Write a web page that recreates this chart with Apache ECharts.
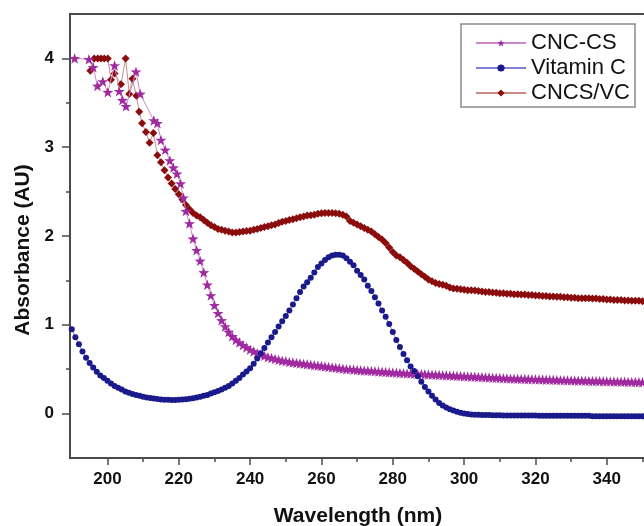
<!DOCTYPE html>
<html>
<head>
<meta charset="utf-8">
<script src="https://cdn.jsdelivr.net/npm/echarts@6/dist/echarts.min.js"></script>
<style>
html,body{margin:0;padding:0;background:#fff;}
#chart{width:644px;height:526px;}
</style>
</head>
<body>
<div id="chart"></div>
<script>
// ---- data ----
const seriesNames = ['CNC-CS', 'Vitamin C', 'CNCS/VC'];
const xTickLabels = [200, 220, 240, 260, 280, 300, 320, 340];
const xMinorTicks = [210, 230, 250, 270, 290, 310, 330, 350];
const yTickLabels = [0, 1, 2, 3, 4];
const yMinorTicks = [0.5, 1.5, 2.5, 3.5];

const wlVitaminC = [190,191,192,193,194,195,196,197,198,199,200,201,202,203,204,205,206,207,208,209,210,211,212,213,214,215,216,217,218,219,220,221,222,223,224,225,226,227,228,229,230,231,232,233,234,235,236,237,238,239,240,241,242,243,244,245,246,247,248,249,250,251,252,253,254,255,256,257,258,259,260,261,262,263,264,265,266,267,268,269,270,271,272,273,274,275,276,277,278,279,280,281,282,283,284,285,286,287,288,289,290,291,292,293,294,295,296,297,298,299,300,301,302,303,304,305,306,307,308,309,310,311,312,313,314,315,316,317,318,319,320,321,322,323,324,325,326,327,328,329,330,331,332,333,334,335,336,337,338,339,340,341,342,343,344,345,346,347,348,349,350];
const absVitaminC = [0.95,0.86,0.78,0.70,0.63,0.57,0.52,0.47,0.43,0.40,0.37,0.34,0.31,0.29,0.27,0.25,0.235,0.22,0.21,0.20,0.19,0.18,0.175,0.17,0.165,0.16,0.157,0.155,0.153,0.153,0.155,0.158,0.162,0.167,0.173,0.18,0.19,0.20,0.21,0.225,0.24,0.255,0.27,0.29,0.31,0.34,0.37,0.40,0.44,0.475,0.51,0.56,0.62,0.68,0.74,0.80,0.86,0.92,0.98,1.04,1.10,1.16,1.23,1.30,1.37,1.43,1.48,1.53,1.59,1.65,1.69,1.73,1.76,1.78,1.79,1.79,1.78,1.75,1.71,1.67,1.61,1.56,1.51,1.44,1.38,1.31,1.24,1.16,1.09,1.01,0.92,0.83,0.75,0.67,0.60,0.53,0.48,0.42,0.36,0.30,0.25,0.20,0.16,0.12,0.09,0.07,0.05,0.035,0.02,0.01,0.00,-0.005,-0.01,-0.012,-0.014,-0.015,-0.016,-0.017,-0.018,-0.018,-0.019,-0.02,-0.02,-0.02,-0.02,-0.02,-0.02,-0.02,-0.02,-0.02,-0.02,-0.025,-0.025,-0.025,-0.025,-0.025,-0.025,-0.025,-0.025,-0.025,-0.025,-0.025,-0.025,-0.025,-0.025,-0.025,-0.03,-0.03,-0.03,-0.03,-0.03,-0.03,-0.03,-0.03,-0.03,-0.03,-0.03,-0.03,-0.03,-0.03,-0.03];

const wlCncCs = [190.8,194.8,196.0,197.2,198.7,200.1,202.0,203.3,204.2,205.2,208.0,209.2,213.0,214.0,215.0,216.2,217.5,218.5,219.5,220.5,221.3,222,223,224,225,226,227,228,229,230,231,232,233,234,235,236,237,238,239,240,241,242,243,244,245,246,247,248,249,250,251,252,253,254,255,256,257,258,259,260,261,262,263,264,265,266,267,268,269,270,271,272,273,274,275,276,277,278,279,280,281,282,283,284,285,286,287,288,289,290,291,292,293,294,295,296,297,298,299,300,301,302,303,304,305,306,307,308,309,310,311,312,313,314,315,316,317,318,319,320,321,322,323,324,325,326,327,328,329,330,331,332,333,334,335,336,337,338,339,340,341,342,343,344,345,346,347,348,349,350];
const absCncCs = [4.00,3.99,3.90,3.69,3.74,3.62,3.92,3.63,3.53,3.46,3.85,3.60,3.30,3.27,3.08,2.97,2.85,2.77,2.70,2.59,2.43,2.28,2.14,1.97,1.84,1.72,1.59,1.45,1.33,1.22,1.13,1.05,0.98,0.92,0.87,0.83,0.80,0.77,0.745,0.72,0.70,0.68,0.665,0.65,0.635,0.625,0.615,0.605,0.595,0.59,0.58,0.575,0.57,0.565,0.56,0.555,0.55,0.545,0.54,0.535,0.53,0.525,0.52,0.515,0.51,0.505,0.50,0.50,0.495,0.49,0.488,0.485,0.482,0.48,0.477,0.474,0.471,0.468,0.465,0.462,0.46,0.457,0.455,0.452,0.45,0.448,0.446,0.444,0.442,0.44,0.438,0.436,0.434,0.432,0.43,0.428,0.426,0.424,0.422,0.42,0.418,0.416,0.414,0.412,0.41,0.408,0.406,0.404,0.402,0.40,0.398,0.396,0.394,0.393,0.392,0.39,0.389,0.388,0.387,0.386,0.385,0.383,0.382,0.381,0.38,0.378,0.377,0.376,0.375,0.373,0.372,0.371,0.37,0.369,0.368,0.367,0.366,0.365,0.364,0.363,0.362,0.361,0.36,0.359,0.358,0.357,0.356,0.355,0.354,0.353];

const wlCncsVc = [195.2,196.3,197.3,198.2,199.1,200.1,201.0,202.0,203.8,205.1,206.1,207.0,208.1,208.9,209.7,210.8,211.8,212.9,214,215,216,217,218,219,220,221,222,223,224,225,226,227,228,229,230,231,232,233,234,235,236,237,238,239,240,241,242,243,244,245,246,247,248,249,250,251,252,253,254,255,256,257,258,259,260,261,262,263,264,265,266,267,268,269,270,271,272,273,274,275,276,277,278,279,280,281,282,283,284,285,286,287,288,289,290,291,292,293,294,295,296,297,298,299,300,301,302,303,304,305,306,307,308,309,310,311,312,313,314,315,316,317,318,319,320,321,322,323,324,325,326,327,328,329,330,331,332,333,334,335,336,337,338,339,340,341,342,343,344,345,346,347,348,349,350];
const absCncsVc = [3.86,4.00,4.00,4.00,4.00,4.00,3.76,3.83,3.71,4.00,3.60,3.77,3.58,3.40,3.27,3.17,3.05,3.16,2.91,2.83,2.74,2.66,2.59,2.53,2.47,2.41,2.35,2.30,2.26,2.23,2.21,2.18,2.15,2.12,2.10,2.08,2.07,2.06,2.05,2.04,2.04,2.045,2.05,2.055,2.06,2.07,2.08,2.09,2.10,2.11,2.12,2.13,2.145,2.16,2.17,2.18,2.19,2.20,2.21,2.22,2.23,2.235,2.24,2.25,2.255,2.26,2.26,2.26,2.255,2.25,2.24,2.22,2.17,2.15,2.13,2.11,2.09,2.07,2.05,2.02,1.99,1.96,1.92,1.87,1.82,1.78,1.76,1.73,1.70,1.66,1.63,1.60,1.57,1.54,1.51,1.49,1.47,1.46,1.45,1.44,1.42,1.41,1.405,1.40,1.395,1.39,1.39,1.385,1.38,1.375,1.37,1.37,1.365,1.36,1.355,1.355,1.35,1.35,1.345,1.345,1.34,1.34,1.335,1.335,1.33,1.33,1.325,1.325,1.32,1.32,1.315,1.315,1.31,1.31,1.305,1.305,1.30,1.30,1.30,1.30,1.295,1.295,1.29,1.29,1.285,1.285,1.28,1.28,1.28,1.275,1.275,1.27,1.27,1.27,1.265];

// ---- chart ----
const FONT = '"Liberation Sans", Arial, Helvetica, sans-serif';
const AXIS_COLOR = '#4a4a4a';
const STAR = 'path://M0,-10L2.35,-3.24L9.51,-3.09L3.8,1.24L5.88,8.09L0,4L-5.88,8.09L-3.8,1.24L-9.51,-3.09L-2.35,-3.24Z';
const pairs = (xs, ys) => xs.map((x, i) => [x, ys[i]]);

const X_MIN = 189.5, X_MAX = 351;
const Y_MIN = -0.5, Y_MAX = 4.5;

const chart = echarts.init(document.getElementById('chart'), null, {renderer: 'canvas'});
chart.setOption({
  animation: false,
  backgroundColor: '#fff',
  textStyle: {fontFamily: FONT},
  grid: {left: 70, top: 14, right: -2, bottom: 68, show: true, borderColor: AXIS_COLOR, borderWidth: 2,
         backgroundColor: 'transparent', containLabel: false, outerBoundsMode: 'none'},
  legend: {
    data: seriesNames,
    orient: 'vertical',
    left: 461, top: 24,
    padding: [8, 5, 3, 14],
    itemWidth: 50, itemHeight: 9, itemGap: 3,
    borderColor: '#8a8a8a', borderWidth: 1.5,
    textStyle: {fontSize: 22, color: '#111', fontFamily: FONT}
  },
  xAxis: [{
    type: 'value', min: X_MIN, max: X_MAX, position: 'bottom',
    name: 'Wavelength (nm)', nameLocation: 'middle', nameGap: 48,
    nameTextStyle: {fontSize: 21, fontWeight: 'bold', color: '#111', fontFamily: FONT},
    axisLine: {show: true, onZero: false, lineStyle: {color: AXIS_COLOR, width: 2}},
    axisTick: {show: true, customValues: xTickLabels, length: 7, lineStyle: {color: AXIS_COLOR, width: 1.5}},
    axisLabel: {customValues: xTickLabels, fontSize: 17, fontWeight: 'bold', color: '#111', margin: 13, fontFamily: FONT},
    splitLine: {show: false}
  }, {
    type: 'value', min: X_MIN, max: X_MAX, position: 'bottom', gridIndex: 0,
    axisLine: {show: false, onZero: false},
    axisTick: {show: true, customValues: xMinorTicks, length: 4, lineStyle: {color: AXIS_COLOR, width: 1.5}},
    axisLabel: {show: false},
    splitLine: {show: false}
  }],
  yAxis: [{
    type: 'value', min: Y_MIN, max: Y_MAX, position: 'left',
    name: 'Absorbance (AU)', nameLocation: 'middle', nameGap: 31,
    nameTextStyle: {fontSize: 21, fontWeight: 'bold', color: '#111', fontFamily: FONT, padding: [0, 28, 0, 0]},
    axisLine: {show: true, onZero: false, lineStyle: {color: AXIS_COLOR, width: 2}},
    axisTick: {show: true, customValues: yTickLabels, length: 8, lineStyle: {color: AXIS_COLOR, width: 1.5}},
    axisLabel: {customValues: yTickLabels, fontSize: 17, fontWeight: 'bold', color: '#111', margin: 16, fontFamily: FONT},
    splitLine: {show: false}
  }, {
    type: 'value', min: Y_MIN, max: Y_MAX, position: 'left', gridIndex: 0,
    axisLine: {show: false, onZero: false},
    axisTick: {show: true, customValues: yMinorTicks, length: 4, lineStyle: {color: AXIS_COLOR, width: 1.5}},
    axisLabel: {show: false},
    splitLine: {show: false}
  }],
  series: [{
    name: 'CNCS/VC', type: 'line', xAxisIndex: 0, yAxisIndex: 0,
    data: pairs(wlCncsVc, absCncsVc),
    symbol: 'diamond', symbolSize: 8, showAllSymbol: true,
    itemStyle: {color: '#8b0c0c'},
    lineStyle: {color: '#c98a8a', width: 1},
    z: 2
  }, {
    name: 'CNC-CS', type: 'line', xAxisIndex: 0, yAxisIndex: 0,
    data: pairs(wlCncCs, absCncCs),
    symbol: STAR, symbolSize: 11, symbolKeepAspect: true, showAllSymbol: true,
    itemStyle: {color: '#a02aa0'},
    lineStyle: {color: '#cc88cc', width: 1},
    z: 3
  }, {
    name: 'Vitamin C', type: 'line', xAxisIndex: 0, yAxisIndex: 0,
    data: pairs(wlVitaminC, absVitaminC),
    symbol: 'circle', symbolSize: 6, showAllSymbol: true,
    itemStyle: {color: '#1a1a8c'},
    lineStyle: {color: '#8080d8', width: 1},
    z: 4
  }]
});
</script>
</body>
</html>
